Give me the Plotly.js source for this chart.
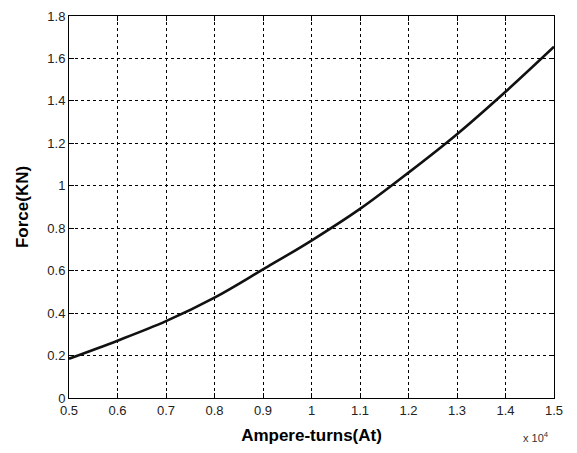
<!DOCTYPE html>
<html>
<head>
<meta charset="utf-8">
<script src="https://cdn.plot.ly/plotly-3.0.1.min.js"></script>
<style>
  html,body{margin:0;padding:0;background:#fff;}
  #chart{width:577px;height:453px;}
</style>
</head>
<body>
<div id="chart"></div>
<script>
// ampere-turns (At) and force
const ampereTurns = [5000, 6000, 7000, 8000, 9000, 10000, 11000, 12000, 13000, 14000, 15000];
const forceKN = [0.185, 0.27, 0.362, 0.473, 0.606, 0.742, 0.891, 1.062, 1.243, 1.443, 1.655];

const xTickVals = [5000, 6000, 7000, 8000, 9000, 10000, 11000, 12000, 13000, 14000, 15000];
const xTickText = ['0.5','0.6','0.7','0.8','0.9','1','1.1','1.2','1.3','1.4','1.5'];
const yTickVals = [0, 0.2, 0.4, 0.6, 0.8, 1, 1.2, 1.4, 1.6, 1.8];

const tickFont = {family:'Liberation Sans, Arial, sans-serif', size:13, color:'#222'};
const titleFont = {family:'Liberation Sans, Arial, sans-serif', size:17, color:'#000', weight:'bold'};

const axisCommon = {
  showline:true, linecolor:'#000', linewidth:1, mirror:'ticks',
  ticks:'inside', ticklen:5, tickcolor:'#000', tickwidth:1,
  showgrid:true, gridcolor:'#000', gridwidth:1, griddash:'3px,3px',
  zeroline:false, tickfont:tickFont
};

Plotly.newPlot('chart', [{
  type:'scatter', mode:'lines',
  x: ampereTurns, y: forceKN,
  line:{color:'#111', width:2.6, shape:'spline', smoothing:1},
  hoverinfo:'skip'
}], {
  width:577, height:453,
  margin:{l:69, r:23, t:16, b:55},
  paper_bgcolor:'#fff', plot_bgcolor:'#fff',
  showlegend:false,
  xaxis:Object.assign({}, axisCommon, {
    range:[5000, 15000], tickmode:'array', tickvals:xTickVals, ticktext:xTickText,
    title:{text:'Ampere-turns(At)', font:titleFont, standoff:12}
  }),
  yaxis:Object.assign({}, axisCommon, {
    range:[0, 1.8], tickmode:'array', tickvals:yTickVals,
    ticktext:yTickVals.map(v=>String(v)),
    title:{text:'Force(KN)', font:titleFont, standoff:14}
  }),
  annotations:[{
    xref:'paper', yref:'paper', x:0.962, y:-0.102, xanchor:'center', yanchor:'middle',
    text:'x 10<sup>4</sup>', showarrow:false,
    font:{family:'Liberation Sans, Arial, sans-serif', size:11, color:'#333'}
  }]
}, {displayModeBar:false, staticPlot:true});
</script>
</body>
</html>
